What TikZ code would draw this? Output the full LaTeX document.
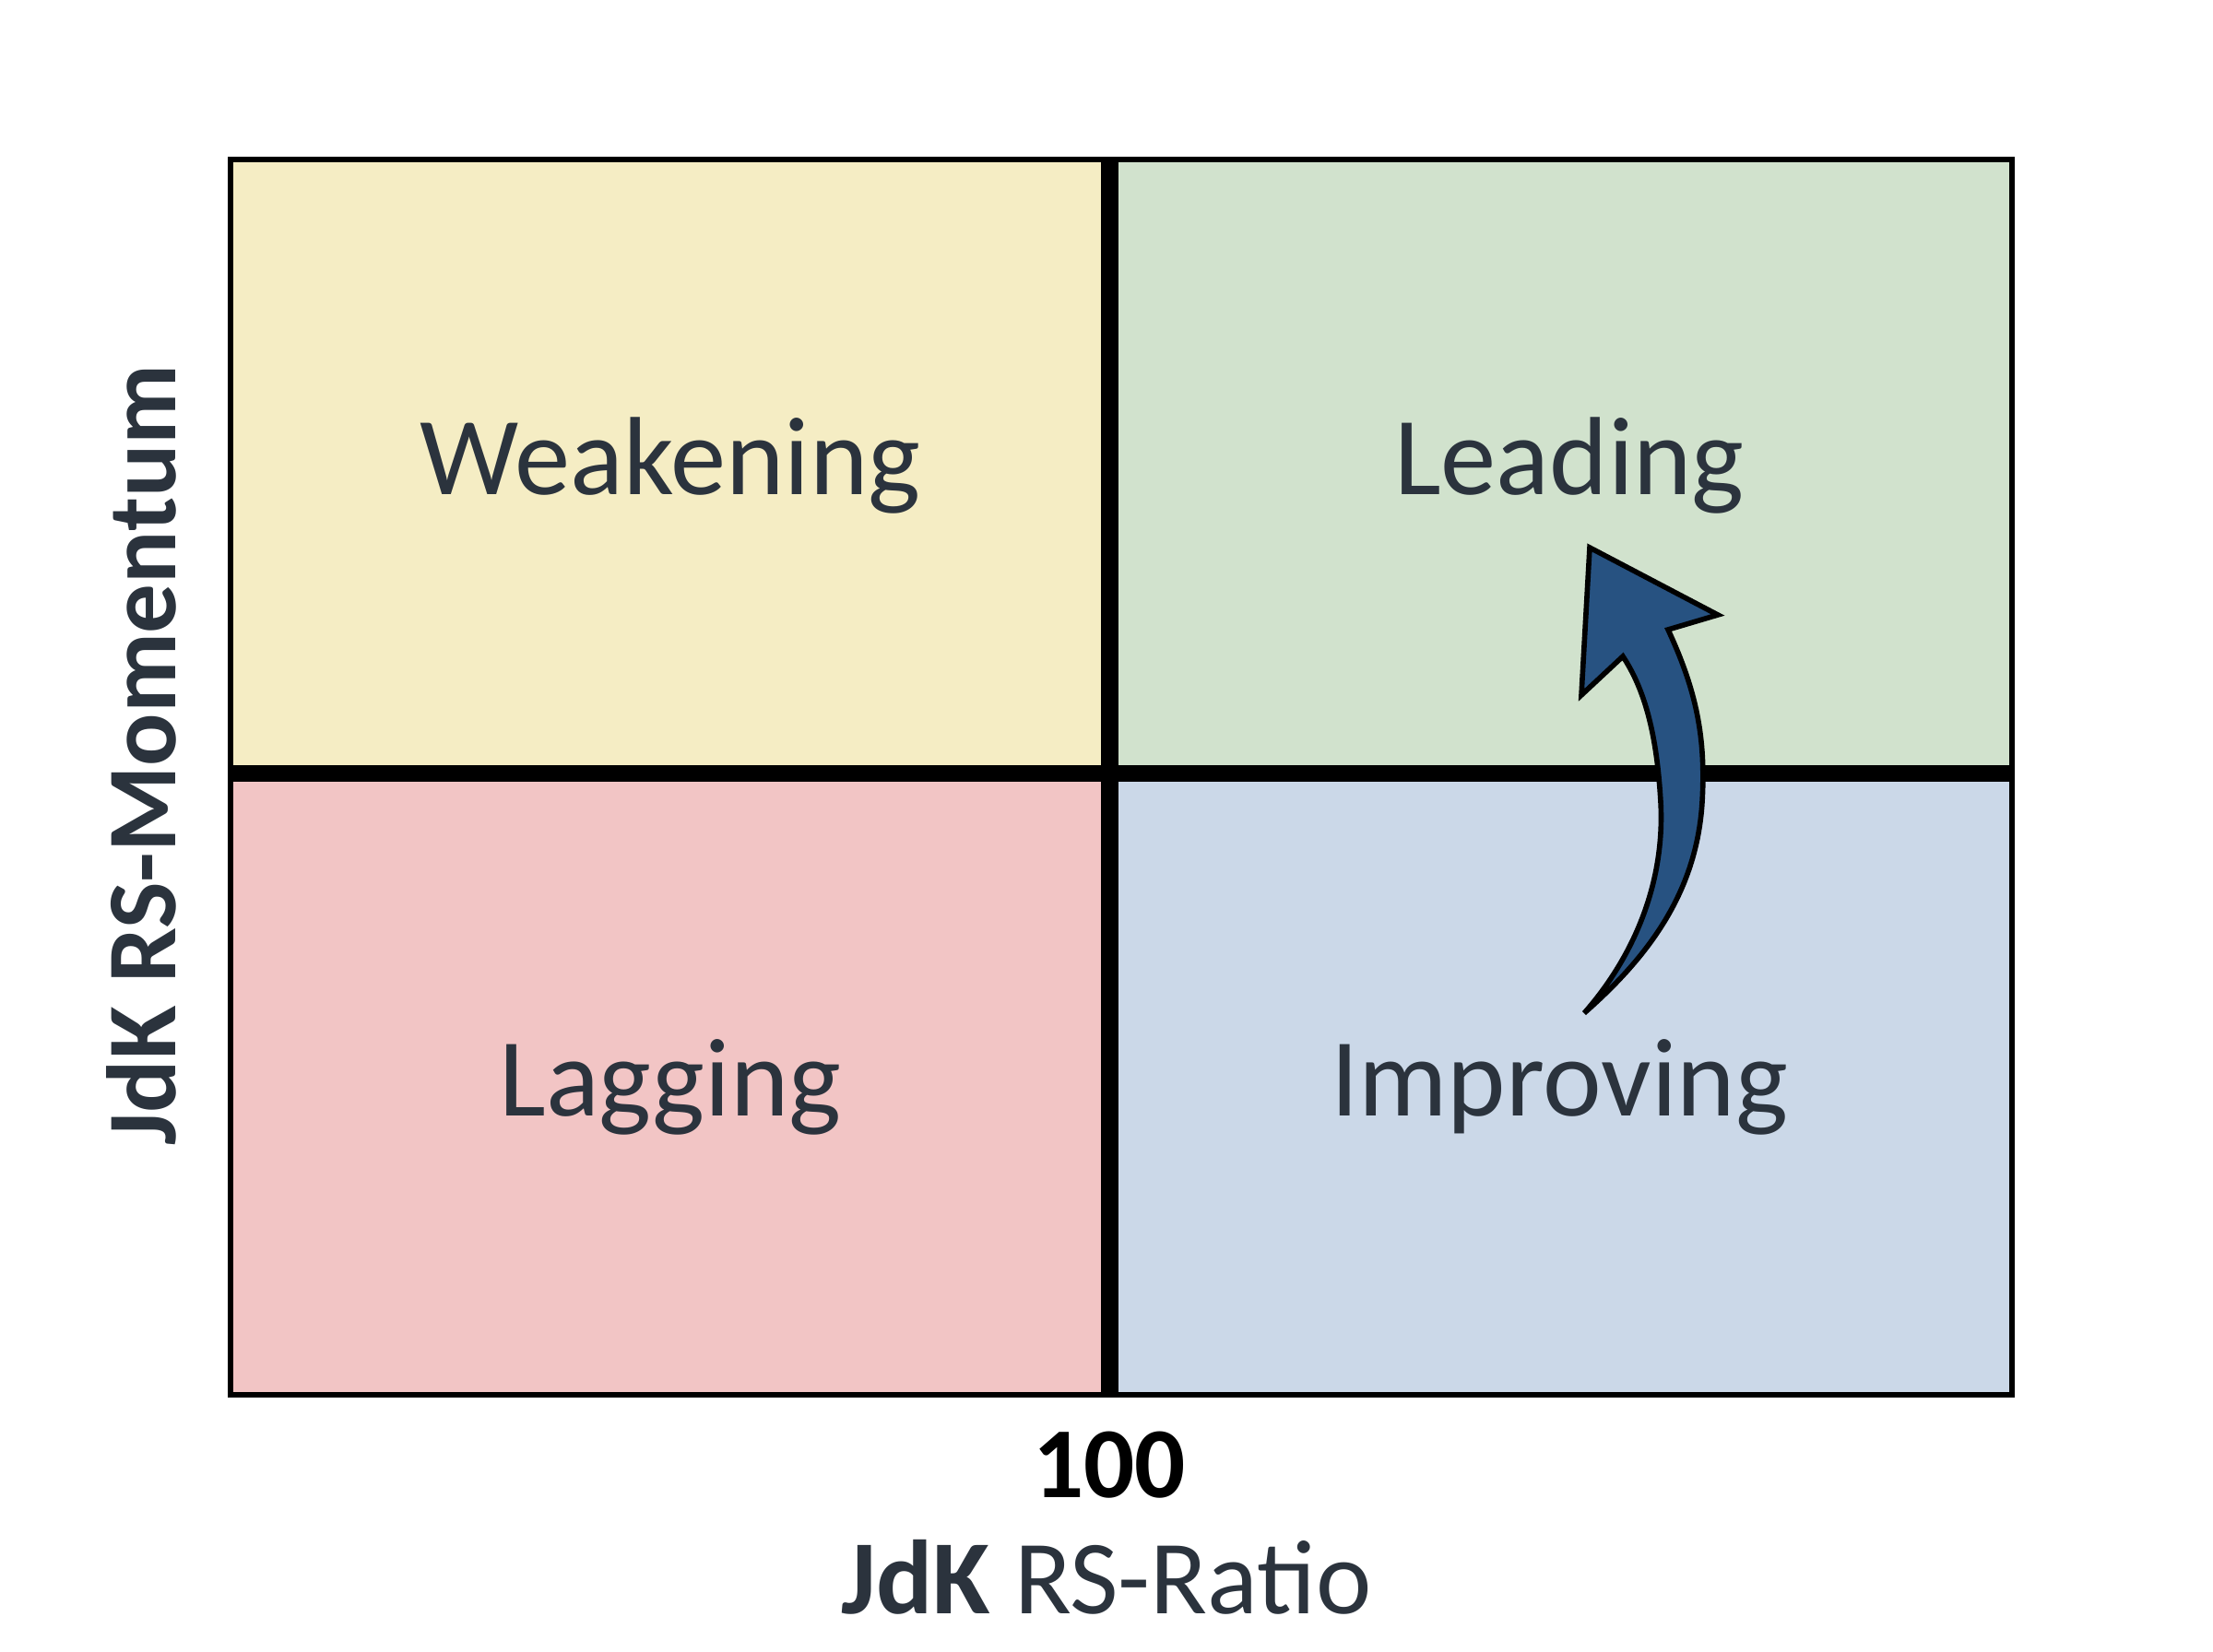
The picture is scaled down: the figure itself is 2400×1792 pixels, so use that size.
\documentclass[tikz,border=0pt]{standalone}
\usepackage{fontspec}
\setmainfont{Carlito}
\definecolor{qyellow}{HTML}{F5EDC4}
\definecolor{qgreen}{HTML}{D1E2CD}
\definecolor{qpink}{HTML}{F2C5C5}
\definecolor{qblue}{HTML}{CBD8E8}
\definecolor{arrowblue}{HTML}{275281}
\definecolor{txt}{HTML}{2B333D}
\begin{document}
\begin{tikzpicture}[x=0.01cm,y=-0.01cm,
  quadlabel/.style={text=txt,font=\fontsize{34.3}{41}\selectfont,inner sep=0pt},
  axislabel/.style={text=txt,font=\fontsize{32.5}{38}\selectfont,inner sep=0pt}]
\useasboundingbox (0,0) rectangle (2400,1792);
\fill[white] (0,0) rectangle (2400,1792);
% quadrants
\fill[qyellow] (250,173) rectangle (1203,839);
\fill[qgreen] (1203,173) rectangle (2182,839);
\fill[qpink] (250,839) rectangle (1203,1513);
\fill[qblue] (1203,839) rectangle (2182,1513);
% dividers
\draw[line width=5.4pt] (1203,173) -- (1203,1513);
\draw[line width=5.4pt] (250,839) -- (2182,839);
\draw[line width=1.8pt] (250,173) rectangle (2182,1513);
% labels
\node[quadlabel] (weak) at (727,505) {Weakening};
\node[quadlabel] (lead) at (1702,505) {Leading};
\node[quadlabel] (lag) at (727,1179) {Lagging};
\node[quadlabel] (impr) at (1691,1179) {Improving};
% arrow
\draw[fill=arrowblue,line width=1.6pt,line join=miter]
  (1724,594) -- (1863,667) -- (1809,683)
  .. controls (1840,750) and (1850,800) .. (1846,870)
  .. controls (1840,970) and (1785,1040) .. (1718,1099)
  .. controls (1770,1040) and (1806,960) .. (1801,870)
  .. controls (1797,800) and (1785,750) .. (1760,712)
  -- (1715,754) -- cycle;
% axes
\node[font=\bfseries\fontsize{31}{36}\selectfont,inner sep=0pt] (hundred) at (1203,1589) {100};
\node[axislabel] (xlab) at (1200,1711) {\textbf{JdK} RS-Ratio};
\node[axislabel,font=\bfseries\fontsize{30.4}{36}\selectfont,rotate=90] (ylab) at (153,819) {JdK RS-Momentum};
\end{tikzpicture}
\end{document}
